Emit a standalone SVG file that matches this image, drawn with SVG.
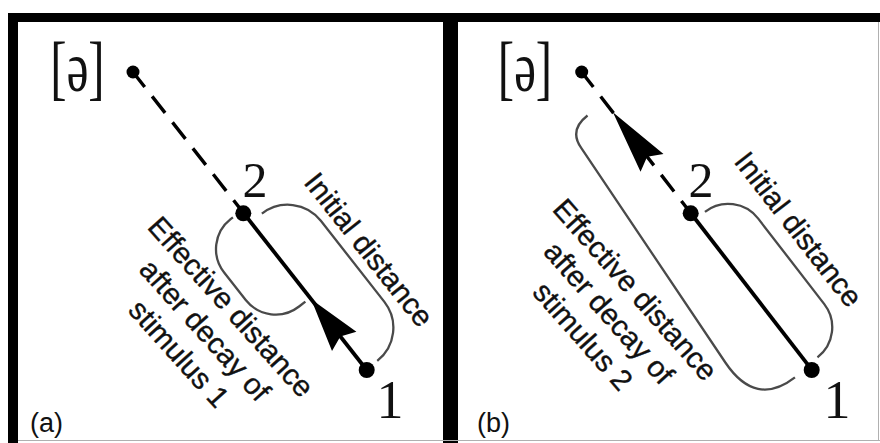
<svg xmlns="http://www.w3.org/2000/svg" width="880" height="443" viewBox="0 0 880 443">
<style>
.lbl{font-family:"Liberation Sans",Arial,Helvetica,sans-serif;font-size:29.5px;fill:#111;stroke:#111;stroke-width:0.35}
.serif{font-family:"Liberation Serif","Times New Roman",serif;fill:#111}
.tag{font-family:"Liberation Sans",Arial,sans-serif;font-size:27px;fill:#111}
.solid{stroke:#000;stroke-width:3.8;fill:none}
.dash{stroke:#000;stroke-width:3.4;stroke-dasharray:21 12;fill:none}
.brace{stroke:#4a4a4a;stroke-width:2.3;fill:none}
.edge{stroke:#b0b0b0;stroke-width:1;fill:none}
</style>
<rect width="880" height="443" fill="#fff"/>
<g id="frame">
  <rect x="8" y="13" width="872" height="9" fill="#000"/>
  <rect x="8" y="13" width="10" height="430" fill="#000"/>
  <rect x="443" y="13" width="15" height="430" fill="#000"/>
  <line x1="878.5" y1="22" x2="878.5" y2="440" class="edge"/>
  <line x1="18" y1="440.5" x2="880" y2="440.5" class="edge"/>
</g>

<!-- connectors -->
<g id="connectors">
  <g id="conn-a" transform="translate(133,72) rotate(51.9)">
    <line x1="-2" y1="0" x2="179.3" y2="0" class="dash"/>
    <line x1="179.3" y1="0" x2="378.7" y2="0" class="solid"/>
    <polygon points="288.8,0 342.3,15.5 336,0 342.3,-15.5" fill="#000"/>
    <path class="brace" d="M 191,-14 A 42 42 0 0 1 233,-56 L 336,-56 A 42 42 0 0 1 378,-14"/>
    <path class="brace" d="M 176,11 L 176,14 A 38 38 0 0 0 214,52 L 249,52 A 38 38 0 0 0 287,14 L 287,6"/>
  </g>
  <g id="conn-b" transform="translate(581.7,72) rotate(52.3)">
    <line x1="-2" y1="0" x2="178.5" y2="0" class="dash"/>
    <line x1="178.5" y1="0" x2="376.4" y2="0" class="solid"/>
    <polygon points="51,0 115,14.5 107,0 115,-14.5" fill="#000"/>
    <path class="brace" d="M 186,-12 A 38 38 0 0 1 224,-50 L 332,-50 A 38 38 0 0 1 370,-12"/>
    <path class="brace" d="M 38,22 Q 38,46 60,46.8 L 318,64 Q 372,67.5 372,18"/>
  </g>
</g>

<!-- panel a nodes -->
<g id="a-schwa">
  <circle cx="133" cy="72" r="6.5" fill="#000"/>
  <text class="serif" font-size="72" text-anchor="middle" transform="translate(77.5,91) scale(0.68,1)">[ə]</text>
</g>
<g id="a-node2">
  <circle cx="243.3" cy="213.3" r="8" fill="#000"/>
  <text class="serif" font-size="50" x="255" y="197" text-anchor="middle">2</text>
</g>
<g id="a-node1">
  <circle cx="366.7" cy="370" r="8" fill="#000"/>
  <text class="serif" font-size="54" x="390" y="418" text-anchor="middle">1</text>
</g>
<g id="a-labels">
  <text class="lbl" text-anchor="middle" transform="translate(361,256) rotate(51.5)">Initial distance</text>
  <g transform="translate(197.5,337) rotate(48)">
    <text class="lbl" text-anchor="middle" y="-35">Effective distance</text>
    <text class="lbl" text-anchor="middle" y="0">after decay of</text>
    <text class="lbl" text-anchor="middle" y="35">stimulus 1</text>
  </g>
  <text class="tag" x="30" y="432">(a)</text>
</g>

<!-- panel b nodes -->
<g id="b-schwa">
  <circle cx="581.7" cy="72" r="6.5" fill="#000"/>
  <text class="serif" font-size="72" text-anchor="middle" transform="translate(525,91) scale(0.68,1)">[ə]</text>
</g>
<g id="b-node2">
  <circle cx="690.7" cy="213.3" r="8" fill="#000"/>
  <text class="serif" font-size="50" x="701" y="197" text-anchor="middle">2</text>
</g>
<g id="b-node1">
  <circle cx="811.7" cy="370" r="8" fill="#000"/>
  <text class="serif" font-size="54" x="837" y="418" text-anchor="middle">1</text>
</g>
<g id="b-labels">
  <text class="lbl" text-anchor="middle" transform="translate(790.5,235.5) rotate(52)">Initial distance</text>
  <g transform="translate(601.5,319.5) rotate(48.5)">
    <text class="lbl" text-anchor="middle" y="-35">Effective distance</text>
    <text class="lbl" text-anchor="middle" y="0">after decay of</text>
    <text class="lbl" text-anchor="middle" y="35">stimulus 2</text>
  </g>
  <text class="tag" x="477" y="432">(b)</text>
</g>
</svg>
